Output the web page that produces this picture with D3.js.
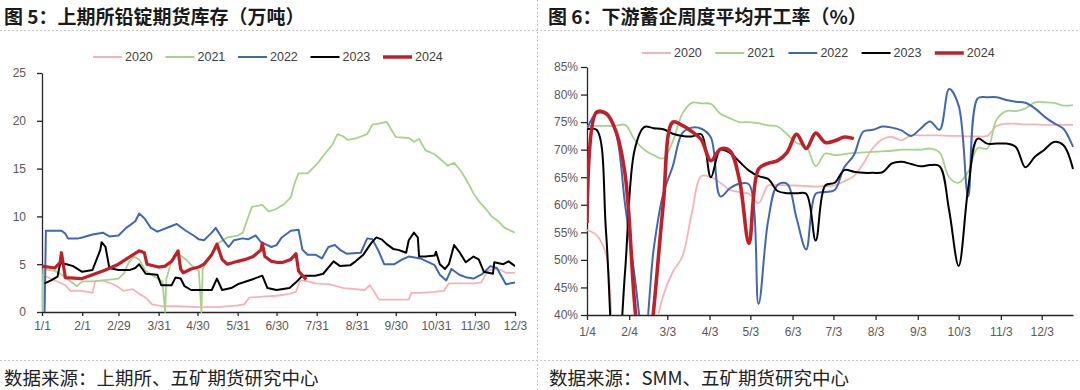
<!DOCTYPE html>
<html>
<head>
<meta charset="utf-8">
<script src="https://cdn.jsdelivr.net/npm/d3@7"></script>
<style>
body { margin: 0; background: #fff; }
svg { display: block; font-family: "Liberation Sans", Arial, sans-serif; }
</style>
</head>
<body>
<svg id="chart" width="1080" height="390"></svg>
<script>
// ---- data: left chart, SHFE lead ingot stock (10k t), [date, value]
var years = ["2020", "2021", "2022", "2023", "2024"];

var stock2020 = [["1/1",3.9],["1/11",3.3],["1/19",2.8],["1/23",2.2],["2/1",2.2],["2/9",2.0],["2/11",3.2],["2/17",3.3],["2/25",2.9],["2/29",2.6],["3/4",2.2],["3/11",2.4],["3/15",2.0],["3/21",1.5],["3/26",0.8],["4/3",0.6],["4/15",0.6],["5/1",0.5],["5/16",0.5],["5/31",0.7],["6/5",0.8],["6/9",1.5],["6/19",1.6],["6/30",1.7],["7/10",1.9],["7/15",2.1],["7/18",3.3],["7/24",3.2],["7/30",3.0],["8/10",2.9],["8/21",2.5],["8/30",2.4],["9/6",2.3],["9/10",2.8],["9/13",2.2],["9/17",1.3],["9/29",1.3],["10/10",1.3],["10/12",2.0],["10/19",2.0],["10/30",2.1],["11/6",2.2],["11/10",3.0],["11/15",3.0],["11/29",3.0],["12/5",3.1],["12/10",4.3],["12/15",4.5],["12/20",4.4],["12/24",4.1],["12/31",4.1]];

var stock2021 = [["1/1",0],["1/2",4.5],["1/11",4.3],["1/15",4.0],["1/20",3.5],["1/25",3.0],["1/28",2.7],["2/1",3.2],["2/9",3.2],["2/17",3.3],["2/29",3.5],["3/4",4.0],["3/8",5.2],["3/12",5.8],["3/16",5.5],["3/21",4.3],["3/29",3.6],["4/3",3.2],["4/5",0],["4/6",3.5],["4/10",5.3],["4/15",6.1],["4/21",5.5],["4/26",4.8],["5/1",4.3],["5/3",0],["5/4",4.5],["5/8",5.5],["5/12",6.2],["5/16",7.2],["5/23",7.8],["5/31",8.0],["6/4",8.3],["6/7",9.5],["6/11",11.0],["6/19",11.2],["6/24",10.5],["6/30",10.8],["7/6",11.3],["7/11",12.0],["7/14",13.5],["7/17",14.5],["7/24",14.5],["8/1",15.6],["8/6",16.5],["8/12",17.5],["8/16",18.6],["8/20",18.4],["8/24",18.0],["8/31",18.2],["9/8",18.6],["9/12",19.6],["9/17",19.7],["9/23",19.9],["9/26",19.2],["9/30",18.3],["10/10",18.2],["10/14",17.8],["10/18",18.1],["10/23",16.9],["10/30",16.5],["11/5",15.8],["11/9",15.3],["11/14",15.6],["11/19",14.8],["11/24",13.7],["11/29",12.4],["12/3",11.6],["12/9",10.7],["12/13",10.0],["12/18",9.5],["12/23",8.8],["12/31",8.3]];

var stock2022 = [["1/3",0],["1/4",8.5],["1/16",8.5],["1/19",8.2],["1/21",7.7],["1/29",7.7],["2/1",7.8],["2/9",8.1],["2/17",8.3],["2/22",7.9],["2/29",8.0],["3/6",8.8],["3/13",9.5],["3/16",10.3],["3/20",9.8],["3/25",8.8],["3/30",8.4],["4/10",9.0],["4/14",9.2],["4/21",8.5],["4/27",8.0],["5/1",7.6],["5/5",7.5],["5/11",8.3],["5/14",8.8],["5/20",7.5],["5/24",6.8],["5/28",7.5],["6/4",7.7],["6/8",7.6],["6/14",8.0],["6/18",7.3],["6/26",6.8],["6/30",7.0],["7/4",7.8],["7/11",8.5],["7/17",8.6],["7/20",6.5],["7/24",6.0],["7/30",6.0],["8/4",5.6],["8/9",6.8],["8/14",7.0],["8/18",6.5],["8/23",6.1],["9/3",6.2],["9/8",7.7],["9/12",7.6],["9/17",6.3],["9/21",5.0],["9/29",5.0],["10/5",5.5],["10/10",5.8],["10/19",5.6],["10/30",4.9],["11/3",3.9],["11/8",3.3],["11/12",4.5],["11/18",3.9],["11/24",3.6],["11/29",3.5],["12/6",4.0],["12/12",4.8],["12/17",4.6],["12/24",2.9],["12/31",3.1]];

var stock2023 = [["1/3",3.0],["1/8",3.3],["1/13",3.7],["1/15",5.1],["1/20",5.0],["1/25",4.8],["2/1",4.2],["2/9",4.4],["2/15",6.5],["2/16",7.3],["2/19",6.8],["2/22",4.6],["2/29",4.4],["3/9",4.4],["3/13",4.6],["3/16",5.0],["3/21",4.0],["3/30",3.9],["4/2",2.8],["4/10",2.8],["4/13",3.6],["4/17",3.5],["4/20",2.7],["4/25",2.3],["5/11",2.3],["5/15",3.5],["5/19",2.3],["5/26",2.5],["5/31",2.9],["6/11",3.4],["6/19",3.8],["6/23",2.5],["6/30",2.3],["7/10",2.5],["7/15",3.1],["7/20",3.8],["7/30",3.8],["8/5",4.0],["8/13",5.3],["8/18",4.8],["8/26",4.9],["8/30",5.3],["9/5",6.0],["9/11",7.2],["9/15",7.8],["9/19",7.6],["9/23",7.1],["9/28",6.6],["10/2",6.5],["10/8",6.2],["10/10",7.5],["10/14",8.3],["10/17",7.8],["10/18",5.8],["10/23",5.8],["10/30",5.9],["10/31",6.3],["11/3",5.0],["11/7",4.5],["11/10",5.0],["11/14",7.0],["11/18",6.3],["11/23",5.2],["11/29",5.8],["12/3",5.5],["12/7",4.2],["12/14",4.0],["12/15",5.2],["12/22",5.0],["12/26",5.3],["12/31",4.8]];

var stock2024 = [["1/1",4.8],["1/11",4.6],["1/15",5.2],["1/16",6.2],["1/18",4.5],["1/19",3.6],["2/1",3.5],["2/9",3.9],["2/19",4.4],["2/29",5.0],["3/9",5.8],["3/16",6.4],["3/20",6.2],["3/22",5.0],["3/31",4.7],["4/5",4.8],["4/10",5.3],["4/15",6.4],["4/17",4.5],["4/19",4.1],["4/25",4.5],["5/1",4.7],["5/5",5.0],["5/11",6.0],["5/15",7.1],["5/19",5.5],["5/23",5.0],["5/31",5.3],["6/6",5.5],["6/12",5.8],["6/18",6.5],["6/19",7.2],["6/21",5.8],["6/26",5.3],["6/30",5.2],["7/5",5.2],["7/11",5.5],["7/15",6.1],["7/17",4.3],["7/20",3.8],["7/23",3.4]];

var stockTicks = [0, 5, 10, 15, 20, 25];
var stockTickDates = ["1/1","2/1","2/29","3/31","4/30","5/31","6/30","7/31","8/31","9/30","10/31","11/30","12/31"];
var stockTickLabels = ["1/1","2/1","2/29","3/31","4/30","5/31","6/30","7/31","8/31","9/30","10/31","11/30","12/3"];

// ---- data: right chart, weekly battery plant operating rate (%), weeks from 1/4
var weekStart = "1/4";
var rate2020 = [55.4,54.5,51,30,25,25,25,36,43.5,47.8,50.6,58.5,65.2,65.0,64.0,62.7,62.3,62.0,60.3,63.5,63.6,63.5,63.5,63.4,63.3,63.4,63.5,64.3,65.2,67.5,70.3,71.9,72.3,71.7,72.6,72.6,72.6,72.6,72.5,72.5,72.4,72.4,72.5,74.3,74.7,74.7,74.6,74.6,74.5,74.5,74.5,74.5];
var rate2021 = [74.3,74.3,74.3,74.3,74.5,71.8,70.0,69.0,68.4,71.5,76.5,78.5,78.4,78.3,76.5,75.7,75.0,75.0,74.8,74.4,74.2,72.8,71.2,70.6,67.0,69.3,69.0,69.2,69.4,69.5,69.6,69.7,69.8,70.0,70.0,70.0,70.2,69.5,65.0,64.0,66.0,70.3,70.2,75.5,77.0,77.0,77.5,78.6,78.6,78.5,78.0,78.1];
var rate2022 = [73.8,76.6,76.4,73.3,60,47,35,52,62,67,73,74,73.8,72.2,61.5,63,63.8,63.7,42,57,63.6,63.8,57.5,51.9,62,62.3,62.7,66.8,69,73.3,73.6,74.2,74.0,73.5,72.5,73.8,75.1,73.6,81,78,61.5,79.3,79.5,79.5,79,78.7,78.5,77.5,76,74.8,73.8,70.5];
var rate2023 = [73.7,73.6,55,25,48,70,74.1,73.9,73.7,72.9,72.5,72.4,72.8,65,70,69.4,67.8,66.2,65.2,64.7,62.5,62.1,62.1,62,53.5,63.5,64,66.3,66,65.8,65.8,65.9,67.5,67.8,67.4,67,67.2,67,59,48.9,63,72,71.1,71.1,71.1,70.5,66.8,68.7,70,71.4,70.8,66.5];
var rate2024 = [56.7,76.8,76.6,73.5,65.5,42,25,41,60,75,74.4,73.3,71.8,68,70.1,69.8,64.5,53,66.5,67.5,68,69.5,72.8,70.2,73,71.3,71.6,72.3,72];

var rateTicks = [40, 45, 50, 55, 60, 65, 70, 75, 80, 85];
var rateTickDates = ["1/4","2/4","3/3","4/3","5/3","6/3","7/3","8/3","9/3","10/3","11/3","12/3"];
var rateEnd = "12/26";

var colors = {"2020": "#F4B4B7", "2021": "#A9D18E", "2022": "#4068B2", "2023": "#000000", "2024": "#C0202A"};
var widths = {"2020": 1.8, "2021": 1.8, "2022": 2, "2023": 2, "2024": 3.2};

function md(s) {
    var p = s.split("/");
    return new Date(2024, +p[0] - 1, +p[1]);
}

var svg = d3.select("#chart");
svg.append("rect").attr("width", 1080).attr("height", 390).attr("fill", "#fff");

/* dotted frame lines */
var sep = svg.append("g").attr("stroke", "#c8c8c8").attr("stroke-dasharray", "2,2").attr("stroke-width", 1);
sep.append("line").attr("x1", 0).attr("x2", 1080).attr("y1", 30.5).attr("y2", 30.5);
sep.append("line").attr("x1", 0).attr("x2", 1080).attr("y1", 360.5).attr("y2", 360.5);
sep.append("line").attr("x1", 537.5).attr("x2", 537.5).attr("y1", 0).attr("y2", 390);

/* titles and sources */
var cjk = '"Noto Sans CJK SC", "Noto Sans", sans-serif';
svg.append("text").attr("x", 4).attr("y", 15).attr("dominant-baseline", "central")
    .style("font-family", cjk).style("font-size", "19px").style("font-weight", "bold").attr("fill", "#1a1a1a")
    .text("图 5：上期所铅锭期货库存（万吨）");
svg.append("text").attr("x", 548).attr("y", 15).attr("dominant-baseline", "central")
    .style("font-family", cjk).style("font-size", "19px").style("font-weight", "bold").attr("fill", "#1a1a1a")
    .text("图 6：下游蓄企周度平均开工率（%）");
svg.append("text").attr("x", 4).attr("y", 377).attr("dominant-baseline", "central")
    .style("font-family", cjk).style("font-size", "18.5px").attr("fill", "#222")
    .text("数据来源：上期所、五矿期货研究中心");
svg.append("text").attr("x", 549).attr("y", 377).attr("dominant-baseline", "central")
    .style("font-family", cjk).style("font-size", "18.5px").attr("fill", "#222")
    .text("数据来源：SMM、五矿期货研究中心");

function legend(x0, y0, step) {
    var g = svg.append("g");
    years.forEach(function(yr, i) {
        var x = x0 + i * step;
        g.append("line").attr("x1", x).attr("x2", x + 29).attr("y1", y0).attr("y2", y0)
            .attr("stroke", colors[yr]).attr("stroke-width", yr == "2024" ? 3.5 : 2);
        g.append("text").attr("x", x + 32).attr("y", y0).attr("dominant-baseline", "central")
            .style("font-size", "12.5px").attr("fill", "#404040").text(yr);
    });
}

function styleAxis(g) {
    g.selectAll("path, line").attr("stroke", "#262626").attr("stroke-width", 1.3);
    g.selectAll("text").attr("fill", "#595959").style("font-size", "12px")
        .style("font-family", '"Liberation Sans", Arial, sans-serif');
}

/* ---------- left chart ---------- */
var x1 = d3.scaleTime().domain([md("1/1"), md("12/31")]).range([42, 515]);
var y1 = d3.scaleLinear().domain([0, 25]).range([312, 73]);

svg.append("clipPath").attr("id", "clipL").append("rect")
    .attr("x", 42).attr("y", 60).attr("width", 473).attr("height", 253);

svg.append("g").attr("transform", "translate(42,0)")
    .call(d3.axisLeft(y1).tickValues(stockTicks).tickSize(5).tickPadding(11).tickSizeOuter(0))
    .call(styleAxis);
svg.append("g").attr("transform", "translate(0,312)")
    .call(d3.axisBottom(x1).tickValues(stockTickDates.map(md)).tickSize(4).tickPadding(5).tickSizeOuter(0)
        .tickFormat(function(d, i) { return stockTickLabels[i]; }))
    .call(styleAxis);

var lineL = d3.line().x(function(d) { return x1(md(d[0])); }).y(function(d) { return y1(d[1]); });
var stockSeries = [stock2020, stock2021, stock2022, stock2023, stock2024];
var gL = svg.append("g").attr("clip-path", "url(#clipL)");
stockSeries.forEach(function(s, i) {
    gL.append("path").datum(s).attr("d", lineL).attr("fill", "none")
        .attr("stroke", colors[years[i]]).attr("stroke-width", widths[years[i]])
        .attr("stroke-linejoin", "round");
});
legend(93, 57, 72.5);

/* ---------- right chart ---------- */
var x2 = d3.scaleTime().domain([md(weekStart), md(rateEnd)]).range([587, 1073]);
var y2 = d3.scaleLinear().domain([40, 85]).range([315, 67]);

svg.append("clipPath").attr("id", "clipR").append("rect")
    .attr("x", 587).attr("y", 55).attr("width", 490).attr("height", 260);

svg.append("g").attr("transform", "translate(587,0)")
    .call(d3.axisLeft(y2).tickValues(rateTicks).tickSize(6).tickPadding(3).tickSizeOuter(0)
        .tickFormat(function(d) { return d + "%"; }))
    .call(styleAxis);
svg.append("g").attr("transform", "translate(0,315)")
    .call(d3.axisBottom(x2).tickValues(rateTickDates.map(md)).tickSize(5).tickPadding(7).tickSizeOuter(0)
        .tickFormat(function(d, i) { return rateTickDates[i]; }))
    .call(styleAxis);

var lineR = d3.line().curve(d3.curveCatmullRom)
    .x(function(d, i) { return x2(d3.timeDay.offset(md(weekStart), 7 * i)); })
    .y(function(d) { return y2(d); });
var rateSeries = [rate2020, rate2021, rate2022, rate2023, rate2024];
var gR = svg.append("g").attr("clip-path", "url(#clipR)");
rateSeries.forEach(function(s, i) {
    gR.append("path").datum(s).attr("d", lineR).attr("fill", "none")
        .attr("stroke", colors[years[i]]).attr("stroke-width", i == 4 ? 3.6 : widths[years[i]])
        .attr("stroke-linejoin", "round");
});
legend(642, 53, 73.2);
</script>
</body>
</html>
